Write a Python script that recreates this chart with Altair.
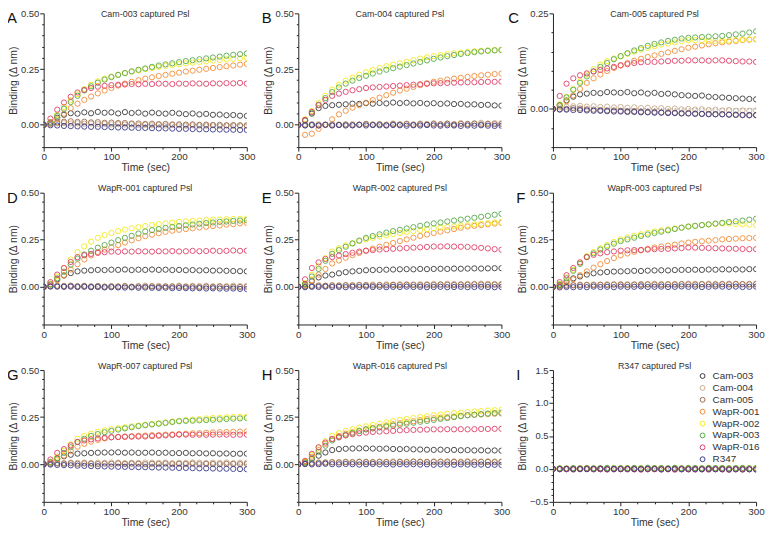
import altair as alt
import pandas as pd

# ---------------- data ----------------
TIME_SEC = [0, 10, 20, 30, 40, 50, 60, 70, 80, 90, 100, 110, 120, 130, 140, 150,
            160, 170, 180, 190, 200, 210, 220, 230, 240, 250, 260, 270, 280, 290, 300]

SERIES = ["Cam-003", "Cam-004", "Cam-005", "WapR-001", "WapR-002", "WapR-003", "WapR-016", "R347"]
COLORS = ["#3a3a3a", "#c8ac8c", "#9a6a4e", "#f08c38", "#f2ea1e", "#58a84e", "#de3f68", "#3a3988"]

X_MAJOR = [0, 100, 200, 300]
X_MINOR = [25, 50, 75, 125, 150, 175, 225, 250, 275]
Y_MAJOR_A = [0, 0.25, 0.5]
Y_MINOR_A = [-0.1, -0.05, 0.05, 0.1, 0.15, 0.2, 0.3, 0.35, 0.4, 0.45]
Y_MAJOR_C = [0, 0.25]
Y_MINOR_C = [-0.1, -0.05, 0.05, 0.1, 0.15, 0.2]
Y_MAJOR_D = [0, 0.25, 0.5]
Y_MINOR_D = [-0.2, -0.15, -0.1, -0.05, 0.05, 0.1, 0.15, 0.2, 0.3, 0.35, 0.4, 0.45]
Y_MAJOR_I = [-0.5, 0, 0.5, 1.0, 1.5]
Y_MINOR_I = [-0.4, -0.3, -0.2, -0.1, 0.1, 0.2, 0.3, 0.4, 0.6, 0.7, 0.8, 0.9,
             1.1, 1.2, 1.3, 1.4]

PANEL_A = {
    "Cam-003": [0, .012, .032, .045, .052, .050, .056, .052, .058, .054, .056, .051, .057, .053, .055, .050, .055, .052, .050, .054, .051, .048, .051, .047, .049, .045, .046, .043, .044, .041, .040],
    "Cam-004": [0, .004, .007, .008, .006, .007, .005, .006, .003, .004, .002, .003, .001, .002, -.001, .000, -.002, .000, -.003, -.001, -.002, -.004, -.002, -.003, -.004, -.002, -.005, -.003, -.005, -.004, -.005],
    "Cam-005": [0, .006, .011, .014, .016, .013, .014, .011, .012, .009, .010, .008, .008, .006, .006, .004, .005, .003, .004, .002, .002, .001, .002, .000, .001, -.001, .000, -.002, -.001, -.002, -.002],
    "WapR-001": [0, .005, .025, .050, .075, .095, .112, .127, .141, .154, .165, .176, .185, .193, .200, .207, .213, .219, .224, .229, .234, .239, .243, .247, .251, .255, .259, .263, .266, .270, .273],
    "WapR-002": [0, .012, .045, .080, .110, .137, .160, .180, .195, .207, .217, .225, .232, .238, .244, .250, .255, .260, .264, .268, .272, .276, .279, .282, .285, .288, .291, .294, .296, .298, .300],
    "WapR-003": [0, .010, .040, .072, .102, .130, .154, .173, .189, .203, .214, .224, .232, .240, .247, .253, .260, .266, .271, .276, .281, .286, .290, .294, .298, .302, .306, .310, .314, .317, .320],
    "WapR-016": [0, .028, .068, .100, .126, .145, .157, .165, .171, .175, .178, .180, .181, .183, .182, .184, .183, .185, .184, .183, .185, .184, .186, .185, .184, .186, .185, .187, .186, .188, .185],
    "R347": [0, -.002, -.003, -.005, -.006, -.007, -.008, -.009, -.009, -.010, -.011, -.012, -.012, -.013, -.014, -.014, -.015, -.016, -.016, -.017, -.018, -.018, -.019, -.020, -.020, -.021, -.021, -.022, -.022, -.023, -.023],
}
PANEL_B = {
    "Cam-003": [0, .020, .050, .075, .085, .088, .090, .092, .095, .094, .097, .095, .098, .096, .100, .097, .099, .096, .098, .095, .097, .094, .096, .093, .094, .091, .092, .089, .090, .087, .086],
    "Cam-004": [0, .002, -.002, .003, .000, .004, .001, -.001, .003, .000, .005, .002, .004, .001, .006, .003, .005, .002, .006, .004, .007, .003, .006, .004, .008, .005, .007, .009, .006, .008, .007],
    "Cam-005": [0, -.003, .002, -.002, .001, -.003, .000, .002, -.002, .001, .003, .000, .002, -.001, .003, .001, .004, .000, .003, .001, .004, .002, .005, .001, .004, .003, .005, .002, .004, .003, .004],
    "WapR-001": [0, -.045, -.040, -.018, .000, .025, .047, .063, .077, .088, .099, .111, .122, .133, .144, .154, .162, .170, .178, .186, .193, .198, .203, .207, .211, .215, .219, .222, .225, .228, .230],
    "WapR-002": [0, .025, .062, .098, .130, .158, .180, .198, .212, .225, .236, .246, .255, .263, .270, .276, .283, .290, .297, .303, .308, .313, .317, .321, .324, .327, .330, .332, .334, .336, .338],
    "WapR-003": [0, .020, .055, .090, .120, .147, .168, .185, .198, .210, .220, .230, .239, .247, .254, .261, .268, .275, .282, .289, .296, .302, .308, .313, .318, .322, .326, .329, .332, .334, .335],
    "WapR-016": [0, .022, .058, .088, .112, .130, .140, .148, .155, .160, .165, .168, .170, .172, .174, .176, .178, .180, .182, .184, .186, .187, .188, .189, .190, .191, .191, .192, .193, .193, .194],
    "R347": [0, -.002, -.001, -.003, .000, -.002, -.001, -.003, -.002, .000, -.003, -.001, -.002, -.003, -.001, -.002, -.004, -.002, -.003, -.001, -.003, -.004, -.002, -.003, -.005, -.003, -.004, -.002, -.004, -.005, -.004],
}
PANEL_C = {
    "Cam-003": [0, .010, .022, .032, .038, .040, .042, .041, .044, .043, .042, .044, .041, .043, .040, .042, .039, .040, .038, .036, .035, .034, .035, .032, .031, .030, .029, .028, .027, .026, .025],
    "Cam-004": [0, .004, .006, .007, .008, .006, .007, .005, .006, .004, .005, .003, .004, .002, .003, .001, .002, .000, .001, -.001, .000, -.002, -.001, -.003, -.002, -.004, -.003, -.005, -.004, -.005, -.004],
    "Cam-005": [0, -.002, .000, .002, .001, -.001, -.002, -.003, -.004, -.004, -.005, -.006, -.006, -.007, -.008, -.008, -.009, -.009, -.010, -.011, -.011, -.012, -.013, -.013, -.014, -.014, -.015, -.016, -.016, -.017, -.017],
    "WapR-001": [0, .008, .020, .035, .052, .068, .080, .090, .099, .107, .114, .120, .126, .131, .136, .140, .144, .148, .152, .156, .160, .163, .166, .169, .172, .174, .176, .178, .180, .181, .182],
    "WapR-002": [0, .012, .032, .052, .072, .090, .104, .116, .125, .132, .138, .144, .150, .155, .160, .164, .168, .171, .174, .177, .180, .180, .179, .178, .178, .178, .179, .180, .181, .182, .183],
    "WapR-003": [0, .010, .030, .050, .068, .085, .098, .110, .120, .130, .138, .146, .153, .159, .165, .170, .174, .178, .181, .184, .186, .187, .188, .189, .190, .191, .193, .195, .197, .200, .203],
    "WapR-016": [0, .034, .066, .080, .088, .093, .098, .102, .106, .110, .114, .117, .120, .122, .123, .123, .124, .125, .126, .126, .127, .127, .127, .126, .127, .127, .126, .125, .124, .124, .123],
    "R347": [0, -.001, -.002, -.003, -.003, -.004, -.005, -.005, -.006, -.007, -.007, -.008, -.008, -.009, -.009, -.010, -.010, -.011, -.011, -.012, -.012, -.013, -.013, -.014, -.014, -.014, -.015, -.015, -.016, -.016, -.016],
}
PANEL_D = {
    "Cam-003": [0, .015, .040, .060, .073, .082, .086, .088, .090, .089, .091, .090, .092, .089, .091, .090, .092, .090, .091, .089, .090, .088, .089, .087, .088, .086, .087, .085, .084, .083, .082],
    "Cam-004": [0, .003, .006, .005, .007, .004, .006, .003, .005, .002, .004, .003, .005, .002, .004, .006, .003, .005, .002, .004, .006, .003, .005, .004, .006, .003, .005, .004, .006, .004, .005],
    "Cam-005": [0, .002, .004, .003, .005, .002, .004, .001, .003, .000, .002, .001, .003, .000, .002, .001, .003, .000, .002, .001, .002, .000, .001, -.001, .001, .000, .001, -.001, .000, -.001, .000],
    "WapR-001": [0, .012, .035, .062, .092, .120, .145, .167, .185, .198, .209, .222, .235, .247, .258, .269, .277, .285, .292, .298, .303, .307, .311, .315, .319, .323, .326, .330, .333, .337, .340],
    "WapR-002": [0, .015, .055, .100, .145, .184, .215, .240, .260, .275, .286, .296, .304, .311, .317, .323, .328, .333, .337, .341, .345, .348, .350, .352, .354, .357, .358, .359, .360, .361, .362],
    "WapR-003": [0, .012, .045, .080, .118, .150, .172, .192, .208, .222, .235, .248, .260, .271, .283, .294, .301, .307, .313, .318, .323, .327, .331, .335, .339, .342, .345, .347, .350, .352, .354],
    "WapR-016": [0, .025, .065, .100, .132, .158, .168, .175, .180, .184, .187, .186, .188, .187, .189, .188, .187, .189, .188, .190, .188, .189, .191, .189, .190, .192, .190, .191, .193, .191, .192],
    "R347": [0, .002, .001, .000, .001, -.001, .000, -.002, -.001, -.003, -.002, -.003, -.004, -.003, -.005, -.004, -.005, -.006, -.005, -.007, -.006, -.007, -.008, -.007, -.009, -.008, -.009, -.010, -.009, -.011, -.012],
}
PANEL_E = {
    "Cam-003": [0, .012, .030, .050, .060, .065, .072, .078, .082, .085, .088, .089, .090, .091, .092, .093, .094, .093, .095, .094, .095, .096, .095, .097, .096, .097, .098, .097, .098, .099, .099],
    "Cam-004": [0, .003, .006, .008, .007, .009, .008, .010, .009, .011, .010, .012, .011, .013, .012, .014, .013, .012, .014, .013, .015, .014, .016, .015, .014, .016, .015, .017, .016, .015, .016],
    "Cam-005": [0, .002, .004, .006, .005, .007, .006, .008, .007, .009, .008, .007, .009, .008, .010, .009, .011, .010, .009, .011, .010, .012, .011, .010, .012, .011, .013, .012, .011, .012, .011],
    "WapR-001": [0, .010, .035, .065, .095, .124, .140, .155, .168, .180, .192, .203, .213, .223, .233, .243, .252, .261, .270, .278, .286, .293, .300, .307, .314, .320, .324, .328, .332, .336, .340],
    "WapR-002": [0, .020, .065, .110, .152, .187, .205, .220, .232, .243, .252, .260, .267, .274, .280, .286, .291, .296, .301, .306, .311, .315, .318, .321, .325, .328, .332, .335, .338, .342, .345],
    "WapR-003": [0, .015, .055, .095, .138, .175, .195, .213, .230, .246, .260, .270, .279, .288, .296, .303, .310, .317, .324, .331, .337, .342, .347, .352, .357, .362, .367, .372, .377, .383, .388],
    "WapR-016": [0, .040, .100, .130, .148, .158, .166, .174, .181, .187, .192, .195, .198, .200, .202, .204, .206, .208, .210, .212, .214, .214, .215, .214, .213, .212, .210, .207, .204, .200, .197],
    "R347": [0, -.002, .000, -.001, .001, -.001, .000, -.002, .000, -.001, .001, -.001, .000, -.002, .000, -.001, .001, -.001, .000, -.002, -.001, .000, -.002, -.001, .000, -.002, -.001, .000, -.001, -.002, -.001],
}
PANEL_F = {
    "Cam-003": [0, .010, .028, .045, .055, .065, .072, .076, .079, .081, .082, .083, .085, .084, .086, .087, .088, .087, .089, .090, .090, .091, .090, .092, .091, .093, .092, .093, .092, .094, .094],
    "Cam-004": [0, .004, .008, .010, .012, .011, .013, .012, .014, .013, .015, .014, .013, .015, .014, .016, .015, .014, .016, .015, .017, .016, .015, .017, .016, .015, .017, .016, .015, .016, .017],
    "Cam-005": [0, .003, .006, .008, .009, .010, .009, .011, .010, .012, .011, .010, .012, .011, .013, .012, .011, .013, .012, .014, .013, .012, .014, .013, .012, .014, .013, .015, .014, .013, .014],
    "WapR-001": [0, .005, .020, .040, .062, .082, .102, .120, .137, .153, .167, .177, .186, .194, .202, .209, .214, .219, .224, .230, .235, .239, .242, .245, .248, .252, .254, .256, .258, .259, .260],
    "WapR-002": [0, .015, .050, .090, .128, .163, .185, .205, .222, .238, .252, .262, .271, .279, .287, .294, .300, .305, .310, .315, .320, .324, .328, .331, .334, .337, .336, .334, .332, .330, .328],
    "WapR-003": [0, .012, .045, .085, .122, .158, .178, .198, .214, .229, .243, .252, .261, .270, .278, .286, .293, .300, .307, .314, .320, .324, .328, .332, .336, .340, .344, .348, .352, .357, .362],
    "WapR-016": [0, .025, .062, .100, .130, .158, .170, .178, .184, .188, .192, .194, .195, .196, .198, .200, .201, .202, .204, .206, .209, .208, .207, .206, .205, .204, .203, .202, .201, .200, .200],
    "R347": [0, -.003, -.001, -.002, .000, -.002, .001, -.001, .000, -.002, .001, -.001, .000, .002, -.001, .000, .001, -.001, .000, .002, .000, .001, -.001, .000, .002, .001, .000, .001, -.001, .000, .001],
}
PANEL_G = {
    "Cam-003": [0, .012, .030, .042, .050, .056, .058, .060, .061, .062, .062, .063, .061, .062, .060, .061, .062, .060, .061, .059, .059, .060, .058, .059, .057, .058, .056, .057, .055, .056, .056],
    "Cam-004": [0, .004, .007, .006, .008, .007, .009, .006, .008, .007, .009, .008, .006, .008, .007, .009, .008, .007, .009, .006, .008, .007, .009, .008, .006, .008, .007, .009, .006, .008, .007],
    "Cam-005": [0, .002, .004, .003, .005, .002, .004, .003, .001, .003, .002, .004, .001, .003, .002, .000, .002, .001, .003, .000, .002, .001, .003, .000, .002, .001, .000, .002, .001, .000, .001],
    "WapR-001": [0, .008, .025, .045, .070, .093, .108, .120, .129, .137, .143, .145, .147, .149, .151, .152, .154, .155, .157, .158, .160, .162, .164, .165, .167, .169, .170, .171, .172, .173, .174],
    "WapR-002": [0, .012, .040, .072, .105, .135, .150, .162, .172, .180, .186, .191, .196, .201, .206, .210, .214, .218, .222, .227, .231, .234, .237, .240, .243, .245, .247, .249, .251, .252, .253],
    "WapR-003": [0, .010, .032, .060, .090, .118, .135, .150, .160, .170, .177, .184, .190, .196, .202, .207, .211, .215, .219, .224, .228, .230, .231, .233, .234, .236, .238, .240, .242, .243, .245],
    "WapR-016": [0, .025, .060, .080, .100, .118, .126, .132, .137, .140, .143, .144, .145, .146, .147, .147, .149, .151, .153, .155, .157, .157, .156, .157, .156, .157, .158, .157, .156, .157, .157],
    "R347": [0, -.002, -.004, -.005, -.006, -.008, -.009, -.010, -.011, -.012, -.013, -.014, -.014, -.015, -.016, -.016, -.017, -.018, -.018, -.019, -.020, -.020, -.021, -.022, -.022, -.023, -.024, -.024, -.025, -.026, -.027],
}
PANEL_H = {
    "Cam-003": [0, .010, .028, .045, .062, .075, .080, .082, .083, .084, .084, .083, .082, .083, .081, .080, .081, .079, .078, .077, .076, .077, .075, .076, .074, .075, .073, .074, .072, .073, .072],
    "Cam-004": [0, .003, .006, .009, .010, .012, .011, .013, .012, .014, .013, .012, .014, .013, .015, .014, .013, .015, .014, .013, .015, .014, .016, .015, .014, .016, .015, .014, .016, .015, .014],
    "Cam-005": [0, .002, .005, .007, .008, .010, .009, .011, .010, .012, .011, .010, .012, .011, .010, .012, .011, .013, .012, .011, .012, .013, .011, .012, .010, .012, .011, .013, .012, .011, .012],
    "WapR-001": [0, .012, .040, .075, .108, .134, .150, .162, .170, .178, .185, .192, .199, .206, .212, .218, .223, .228, .234, .239, .244, .247, .250, .253, .257, .260, .262, .264, .266, .268, .269],
    "WapR-002": [0, .015, .050, .088, .122, .151, .165, .177, .186, .194, .201, .208, .215, .222, .229, .235, .240, .245, .250, .255, .260, .264, .268, .271, .274, .277, .280, .282, .285, .287, .289],
    "WapR-003": [0, .008, .032, .065, .098, .126, .142, .155, .166, .176, .185, .190, .195, .200, .205, .210, .215, .220, .225, .230, .235, .240, .245, .250, .255, .260, .263, .266, .269, .272, .274],
    "WapR-016": [0, .018, .055, .090, .115, .134, .145, .153, .159, .164, .168, .171, .173, .175, .177, .180, .181, .182, .183, .184, .185, .185, .186, .185, .186, .185, .186, .187, .187, .188, .188],
    "R347": [0, .001, -.001, .000, .002, .000, -.001, .001, .000, -.002, .000, .001, -.001, .000, -.002, .000, -.001, .000, -.002, -.001, -.003, -.001, -.002, -.003, -.001, -.002, -.003, -.002, -.004, -.003, -.004],
}
PANEL_I = {
    "Cam-003": [0, .004, -.003, .006, -.002, .005, .001, -.004, .003, .007, -.001, .002, -.005, .004, .000, .006, -.003, .002, .005, -.002, .003, -.004, .001, .006, -.001, .003, -.003, .002, .004, -.002, .001],
    "Cam-004": [0, -.003, .005, .001, -.004, .006, -.002, .003, -.005, .002, .004, -.001, .005, -.003, .002, -.004, .006, .001, -.002, .004, -.003, .005, .000, -.004, .003, -.002, .006, -.001, .002, -.003, .004],
    "Cam-005": [0, .002, -.005, .003, .006, -.002, .004, -.003, .001, -.006, .003, .005, -.002, .001, -.004, .003, .000, -.005, .004, .002, -.001, .003, -.004, .002, .005, -.003, .001, -.002, .004, -.001, .002],
    "WapR-001": [0, .005, .002, -.003, .007, .004, -.001, .006, .002, -.002, .005, .008, .001, -.002, .006, .003, .007, -.001, .004, .002, .006, -.002, .003, .007, .001, .005, .002, -.001, .006, .003, .004],
    "WapR-002": [0, .006, .010, .004, .008, .012, .005, .009, .003, .011, .007, .010, .004, .012, .006, .009, .013, .005, .010, .007, .011, .004, .009, .012, .006, .010, .008, .005, .011, .007, .009],
    "WapR-003": [0, .008, .004, .012, .007, .014, .009, .011, .016, .008, .013, .010, .015, .009, .018, .012, .014, .010, .017, .011, .015, .013, .009, .016, .012, .014, .010, .013, .015, .011, .012],
    "WapR-016": [0, -.006, -.002, -.009, -.004, .001, -.007, -.003, -.010, -.005, -.001, -.008, -.004, -.011, -.006, -.002, -.009, -.005, -.012, -.007, -.003, -.010, -.006, -.011, -.004, -.008, -.013, -.007, -.010, -.005, -.009],
    "R347": [0, -.002, .001, -.003, .000, -.004, -.001, .002, -.003, -.001, -.005, .000, -.002, -.004, .001, -.003, -.006, -.002, .000, -.004, -.007, -.003, -.005, -.001, -.006, -.004, -.008, -.005, -.007, -.006, -.009],
}

PANELS = [
    dict(letter="A", title="Cam-003 captured Psl", data=PANEL_A, ydom=[-0.1, 0.5], ymaj=Y_MAJOR_A, ymin=Y_MINOR_A, fmt=".2f"),
    dict(letter="B", title="Cam-004 captured Psl", data=PANEL_B, ydom=[-0.1, 0.5], ymaj=Y_MAJOR_A, ymin=Y_MINOR_A, fmt=".2f"),
    dict(letter="C", title="Cam-005 captured Psl", data=PANEL_C, ydom=[-0.1, 0.25], ymaj=Y_MAJOR_C, ymin=Y_MINOR_C, fmt=".2f"),
    dict(letter="D", title="WapR-001 captured Psl", data=PANEL_D, ydom=[-0.2, 0.5], ymaj=Y_MAJOR_D, ymin=Y_MINOR_D, fmt=".2f"),
    dict(letter="E", title="WapR-002 captured Psl", data=PANEL_E, ydom=[-0.2, 0.5], ymaj=Y_MAJOR_D, ymin=Y_MINOR_D, fmt=".2f"),
    dict(letter="F", title="WapR-003 captured Psl", data=PANEL_F, ydom=[-0.2, 0.5], ymaj=Y_MAJOR_D, ymin=Y_MINOR_D, fmt=".2f"),
    dict(letter="G", title="WapR-007 captured Psl", data=PANEL_G, ydom=[-0.2, 0.5], ymaj=Y_MAJOR_D, ymin=Y_MINOR_D, fmt=".2f"),
    dict(letter="H", title="WapR-016 captured Psl", data=PANEL_H, ydom=[-0.2, 0.5], ymaj=Y_MAJOR_D, ymin=Y_MINOR_D, fmt=".2f"),
    dict(letter="I", title="R347 captured Psl", data=PANEL_I, ydom=[-0.5, 1.5], ymaj=Y_MAJOR_I, ymin=Y_MINOR_I, fmt=".1f"),
]

# ---------------- layout ----------------
W = 205
ROW_H = [135, 133, 133]
TITLE_DY = [4, -2, -1]
LETTER_DX = {"C": -45}
FONT = "Liberation Sans"

LEGEND = alt.Legend(title=None, orient="none", legendX=660, legendY=361, padding=0,
                    labelFontSize=10, labelFont=FONT, labelColor="#333333",
                    symbolType="circle", symbolSize=24, symbolStrokeWidth=1,
                    symbolFillColor="transparent", rowPadding=2, labelOffset=5)


def make_panel(i, p):
    row = i // 3
    rows = [{"t": t, "v": v, "s": s} for s in SERIES for t, v in zip(TIME_SEC, p["data"][s])]
    df = pd.DataFrame(rows)
    xs = alt.Scale(domain=[0, 300], nice=False, zero=False)
    ys = alt.Scale(domain=p["ydom"], nice=False, zero=False)

    xaxis = alt.Axis(values=X_MAJOR, title="Time (sec)", format="d", labelOverlap=False,
                     labelFlush=False, tickSize=4, orient="bottom")
    yaxis = alt.Axis(values=p["ymaj"], title="Binding (Δ nm)", format=p["fmt"],
                     labelOverlap=False, labelFlush=False, titlePadding=2, tickSize=4,
                     orient="left", labelFontSize=9.5)
    xminor = alt.Axis(values=X_MINOR, labels=False, domain=False, title=None, tickSize=2,
                      orient="bottom")
    yminor = alt.Axis(values=p["ymin"], labels=False, domain=False, title=None, tickSize=2,
                      orient="left")

    zero = alt.Chart(pd.DataFrame({"z": [0]})).mark_rule(
        color="#777777", strokeWidth=0.8, strokeDash=[1.5, 2]
    ).encode(y=alt.YDatum(0, scale=ys, axis=None))

    pts = alt.Chart(df).mark_point(shape="circle", filled=False, size=28, strokeWidth=0.9,
                                   opacity=1, clip=True).encode(
        x=alt.X("t:Q", scale=xs, axis=xaxis),
        y=alt.Y("v:Q", scale=ys, axis=yaxis),
        color=alt.Color("s:N", scale=alt.Scale(domain=SERIES, range=COLORS), legend=LEGEND),
    )
    minor = alt.Chart(pd.DataFrame({"t": [0], "v": [0]})).mark_point(opacity=0).encode(
        x=alt.X("t:Q", scale=xs, axis=xminor),
        y=alt.Y("v:Q", scale=ys, axis=yminor),
    )
    title = alt.Chart(pd.DataFrame({"k": [p["title"]]})).mark_text(
        align="center", baseline="alphabetic", fontSize=9, font=FONT, color="#333333"
    ).encode(x=alt.value(W / 2), y=alt.value(TITLE_DY[row]), text="k:N")
    letter = alt.Chart(pd.DataFrame({"k": [p["letter"]]})).mark_text(
        align="left", baseline="alphabetic", fontSize=15, font=FONT, color="#111111"
    ).encode(x=alt.value(LETTER_DX.get(p["letter"], -37)), y=alt.value(10), text="k:N")
    return alt.layer(zero, pts, minor, title, letter).resolve_axis(
        x="independent", y="independent").properties(width=W, height=ROW_H[row])


charts = [make_panel(i, p) for i, p in enumerate(PANELS)]

chart = alt.concat(*charts, columns=3, spacing={"row": 46, "column": 52}, bounds="flush").properties(
    padding={"left": -1, "top": -2, "right": 0, "bottom": -2}
).configure_view(stroke=None).configure_axis(
    grid=False, domainColor="#222222", domainWidth=1, tickColor="#222222", tickWidth=1,
    labelColor="#333333", titleColor="#333333", labelFont=FONT, titleFont=FONT,
    labelFontSize=10, titleFontSize=10.5, titleFontWeight="normal",
    labelOverlap=False, labelFlush=False, labelPadding=1, titlePadding=1,
)

chart.save("out.html", embed_options={"renderer": "svg", "actions": False})
